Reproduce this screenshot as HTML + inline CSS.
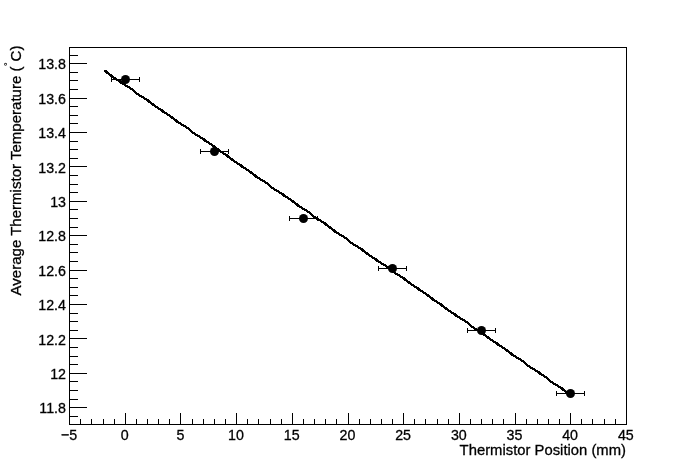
<!DOCTYPE html>
<html><head><meta charset="utf-8"><title>Thermistor plot</title>
<style>
html,body{margin:0;padding:0;background:#fff;}
body{width:696px;height:472px;overflow:hidden;}
svg{display:block;font-size:15px;}
text{font-family:"Liberation Sans",sans-serif;font-size:inherit;fill:#000;stroke:#000;stroke-width:0.3px;}
.ax line,.ax rect{stroke:#000;stroke-width:1;shape-rendering:crispEdges;fill:none;}
.eb line{stroke:#000;stroke-width:1;shape-rendering:crispEdges;}
</style></head><body>
<svg width="696" height="472" viewBox="0 0 696 472">
<rect x="0" y="0" width="696" height="472" fill="#fff"/>
<g class="ax">
<rect x="69.5" y="47.5" width="557.0" height="377.0"/>
<line x1="69.5" y1="424.5" x2="69.5" y2="413.0"/>
<line x1="80.5" y1="424.5" x2="80.5" y2="419.0"/>
<line x1="91.5" y1="424.5" x2="91.5" y2="419.0"/>
<line x1="103.5" y1="424.5" x2="103.5" y2="419.0"/>
<line x1="114.5" y1="424.5" x2="114.5" y2="419.0"/>
<line x1="125.5" y1="424.5" x2="125.5" y2="413.0"/>
<line x1="136.5" y1="424.5" x2="136.5" y2="419.0"/>
<line x1="147.5" y1="424.5" x2="147.5" y2="419.0"/>
<line x1="158.5" y1="424.5" x2="158.5" y2="419.0"/>
<line x1="169.5" y1="424.5" x2="169.5" y2="419.0"/>
<line x1="180.5" y1="424.5" x2="180.5" y2="413.0"/>
<line x1="192.5" y1="424.5" x2="192.5" y2="419.0"/>
<line x1="203.5" y1="424.5" x2="203.5" y2="419.0"/>
<line x1="214.5" y1="424.5" x2="214.5" y2="419.0"/>
<line x1="225.5" y1="424.5" x2="225.5" y2="419.0"/>
<line x1="236.5" y1="424.5" x2="236.5" y2="413.0"/>
<line x1="247.5" y1="424.5" x2="247.5" y2="419.0"/>
<line x1="258.5" y1="424.5" x2="258.5" y2="419.0"/>
<line x1="270.5" y1="424.5" x2="270.5" y2="419.0"/>
<line x1="281.5" y1="424.5" x2="281.5" y2="419.0"/>
<line x1="292.5" y1="424.5" x2="292.5" y2="413.0"/>
<line x1="303.5" y1="424.5" x2="303.5" y2="419.0"/>
<line x1="314.5" y1="424.5" x2="314.5" y2="419.0"/>
<line x1="325.5" y1="424.5" x2="325.5" y2="419.0"/>
<line x1="336.5" y1="424.5" x2="336.5" y2="419.0"/>
<line x1="348.5" y1="424.5" x2="348.5" y2="413.0"/>
<line x1="359.5" y1="424.5" x2="359.5" y2="419.0"/>
<line x1="370.5" y1="424.5" x2="370.5" y2="419.0"/>
<line x1="381.5" y1="424.5" x2="381.5" y2="419.0"/>
<line x1="392.5" y1="424.5" x2="392.5" y2="419.0"/>
<line x1="403.5" y1="424.5" x2="403.5" y2="413.0"/>
<line x1="414.5" y1="424.5" x2="414.5" y2="419.0"/>
<line x1="425.5" y1="424.5" x2="425.5" y2="419.0"/>
<line x1="437.5" y1="424.5" x2="437.5" y2="419.0"/>
<line x1="448.5" y1="424.5" x2="448.5" y2="419.0"/>
<line x1="459.5" y1="424.5" x2="459.5" y2="413.0"/>
<line x1="470.5" y1="424.5" x2="470.5" y2="419.0"/>
<line x1="481.5" y1="424.5" x2="481.5" y2="419.0"/>
<line x1="492.5" y1="424.5" x2="492.5" y2="419.0"/>
<line x1="503.5" y1="424.5" x2="503.5" y2="419.0"/>
<line x1="515.5" y1="424.5" x2="515.5" y2="413.0"/>
<line x1="526.5" y1="424.5" x2="526.5" y2="419.0"/>
<line x1="537.5" y1="424.5" x2="537.5" y2="419.0"/>
<line x1="548.5" y1="424.5" x2="548.5" y2="419.0"/>
<line x1="559.5" y1="424.5" x2="559.5" y2="419.0"/>
<line x1="570.5" y1="424.5" x2="570.5" y2="413.0"/>
<line x1="581.5" y1="424.5" x2="581.5" y2="419.0"/>
<line x1="592.5" y1="424.5" x2="592.5" y2="419.0"/>
<line x1="604.5" y1="424.5" x2="604.5" y2="419.0"/>
<line x1="615.5" y1="424.5" x2="615.5" y2="419.0"/>
<line x1="626.5" y1="424.5" x2="626.5" y2="413.0"/>
<line x1="69.5" y1="416.5" x2="78.0" y2="416.5"/>
<line x1="69.5" y1="407.5" x2="87.0" y2="407.5"/>
<line x1="69.5" y1="399.5" x2="78.0" y2="399.5"/>
<line x1="69.5" y1="390.5" x2="78.0" y2="390.5"/>
<line x1="69.5" y1="381.5" x2="78.0" y2="381.5"/>
<line x1="69.5" y1="373.5" x2="87.0" y2="373.5"/>
<line x1="69.5" y1="364.5" x2="78.0" y2="364.5"/>
<line x1="69.5" y1="356.5" x2="78.0" y2="356.5"/>
<line x1="69.5" y1="347.5" x2="78.0" y2="347.5"/>
<line x1="69.5" y1="338.5" x2="87.0" y2="338.5"/>
<line x1="69.5" y1="330.5" x2="78.0" y2="330.5"/>
<line x1="69.5" y1="321.5" x2="78.0" y2="321.5"/>
<line x1="69.5" y1="313.5" x2="78.0" y2="313.5"/>
<line x1="69.5" y1="304.5" x2="87.0" y2="304.5"/>
<line x1="69.5" y1="295.5" x2="78.0" y2="295.5"/>
<line x1="69.5" y1="287.5" x2="78.0" y2="287.5"/>
<line x1="69.5" y1="278.5" x2="78.0" y2="278.5"/>
<line x1="69.5" y1="270.5" x2="87.0" y2="270.5"/>
<line x1="69.5" y1="261.5" x2="78.0" y2="261.5"/>
<line x1="69.5" y1="252.5" x2="78.0" y2="252.5"/>
<line x1="69.5" y1="244.5" x2="78.0" y2="244.5"/>
<line x1="69.5" y1="235.5" x2="87.0" y2="235.5"/>
<line x1="69.5" y1="227.5" x2="78.0" y2="227.5"/>
<line x1="69.5" y1="218.5" x2="78.0" y2="218.5"/>
<line x1="69.5" y1="209.5" x2="78.0" y2="209.5"/>
<line x1="69.5" y1="201.5" x2="87.0" y2="201.5"/>
<line x1="69.5" y1="192.5" x2="78.0" y2="192.5"/>
<line x1="69.5" y1="184.5" x2="78.0" y2="184.5"/>
<line x1="69.5" y1="175.5" x2="78.0" y2="175.5"/>
<line x1="69.5" y1="166.5" x2="87.0" y2="166.5"/>
<line x1="69.5" y1="158.5" x2="78.0" y2="158.5"/>
<line x1="69.5" y1="149.5" x2="78.0" y2="149.5"/>
<line x1="69.5" y1="141.5" x2="78.0" y2="141.5"/>
<line x1="69.5" y1="132.5" x2="87.0" y2="132.5"/>
<line x1="69.5" y1="123.5" x2="78.0" y2="123.5"/>
<line x1="69.5" y1="115.5" x2="78.0" y2="115.5"/>
<line x1="69.5" y1="106.5" x2="78.0" y2="106.5"/>
<line x1="69.5" y1="98.5" x2="87.0" y2="98.5"/>
<line x1="69.5" y1="89.5" x2="78.0" y2="89.5"/>
<line x1="69.5" y1="80.5" x2="78.0" y2="80.5"/>
<line x1="69.5" y1="72.5" x2="78.0" y2="72.5"/>
<line x1="69.5" y1="63.5" x2="87.0" y2="63.5"/>
<line x1="69.5" y1="55.5" x2="78.0" y2="55.5"/>
</g>
<g text-anchor="middle" style="font-size:15.3px">
<text transform="translate(69.0,440) scale(0.932,1)">−5</text>
<text transform="translate(124.7,440) scale(0.932,1)">0</text>
<text transform="translate(180.4,440) scale(0.932,1)">5</text>
<text transform="translate(236.0,440) scale(0.932,1)">10</text>
<text transform="translate(291.7,440) scale(0.932,1)">15</text>
<text transform="translate(347.4,440) scale(0.932,1)">20</text>
<text transform="translate(403.1,440) scale(0.932,1)">25</text>
<text transform="translate(458.8,440) scale(0.932,1)">30</text>
<text transform="translate(514.4,440) scale(0.932,1)">35</text>
<text transform="translate(570.1,440) scale(0.932,1)">40</text>
<text transform="translate(625.8,440) scale(0.932,1)">45</text>
</g>
<g text-anchor="end" style="font-size:15.3px">
<text transform="translate(66,413.3) scale(0.932,1)">11.8</text>
<text transform="translate(66,378.9) scale(0.932,1)">12</text>
<text transform="translate(66,344.5) scale(0.932,1)">12.2</text>
<text transform="translate(66,310.1) scale(0.932,1)">12.4</text>
<text transform="translate(66,275.7) scale(0.932,1)">12.6</text>
<text transform="translate(66,241.3) scale(0.932,1)">12.8</text>
<text transform="translate(66,206.9) scale(0.932,1)">13</text>
<text transform="translate(66,172.5) scale(0.932,1)">13.2</text>
<text transform="translate(66,138.1) scale(0.932,1)">13.4</text>
<text transform="translate(66,103.7) scale(0.932,1)">13.6</text>
<text transform="translate(66,69.3) scale(0.932,1)">13.8</text>
</g>
<text transform="translate(626,455) scale(0.989,1)" text-anchor="end">Thermistor Position (mm)</text>
<text transform="translate(20.5,45.6) rotate(-90) scale(1.003,1)" text-anchor="end">Average Thermistor Temperature (<tspan style="font-size:9px;stroke-width:0.2px" dy="-9.3" dx="0.55">°</tspan><tspan dy="9.3" dx="0.8">C)</tspan></text>
<polyline points="104.5,70.5 108.5,73.5 113.5,77.5 118.5,80.5 122.5,83.5 127.5,86.5 132.5,89.5 136.5,93.5 141.5,96.5 146.5,99.5 150.5,102.5 155.5,106.5 160.5,109.5 164.5,112.5 169.5,115.5 174.5,119.5 178.5,122.5 183.5,125.5 188.5,128.5 192.5,132.5 197.5,135.5 202.5,138.5 206.5,141.5 211.5,144.5 216.5,148.5 220.5,151.5 225.5,154.5 229.5,157.5 234.5,161.5 239.5,164.5 243.5,167.5 248.5,170.5 253.5,174.5 257.5,177.5 262.5,180.5 267.5,183.5 271.5,187.5 276.5,190.5 281.5,193.5 285.5,196.5 290.5,199.5 295.5,203.5 299.5,206.5 304.5,209.5 309.5,212.5 313.5,216.5 318.5,219.5 323.5,222.5 327.5,225.5 332.5,229.5 336.5,232.5 341.5,235.5 346.5,238.5 350.5,242.5 355.5,245.5 360.5,248.5 364.5,251.5 369.5,255.5 374.5,258.5 378.5,261.5 383.5,264.5 388.5,267.5 392.5,271.5 397.5,274.5 402.5,277.5 406.5,280.5 411.5,284.5 416.5,287.5 420.5,290.5 425.5,293.5 430.5,297.5 434.5,300.5 439.5,303.5 443.5,306.5 448.5,310.5 453.5,313.5 457.5,316.5 462.5,319.5 467.5,322.5 471.5,326.5 476.5,329.5 481.5,332.5 485.5,335.5 490.5,339.5 495.5,342.5 499.5,345.5 504.5,348.5 509.5,352.5 513.5,355.5 518.5,358.5 523.5,361.5 527.5,365.5 532.5,368.5 537.5,371.5 541.5,374.5 546.5,377.5 550.5,381.5 555.5,384.5 560.5,387.5 564.5,390.5 569.5,394.5" fill="none" stroke="#000" stroke-width="2.4" stroke-linejoin="round" stroke-linecap="butt" shape-rendering="crispEdges"/>
<g class="eb">
<line x1="111.5" y1="79.5" x2="139.5" y2="79.5"/>
<line x1="111.5" y1="77.0" x2="111.5" y2="82.0"/>
<line x1="139.5" y1="77.0" x2="139.5" y2="82.0"/>
<line x1="200.5" y1="151.5" x2="228.5" y2="151.5"/>
<line x1="200.5" y1="149.0" x2="200.5" y2="154.0"/>
<line x1="228.5" y1="149.0" x2="228.5" y2="154.0"/>
<line x1="289.5" y1="218.5" x2="317.5" y2="218.5"/>
<line x1="289.5" y1="216.0" x2="289.5" y2="221.0"/>
<line x1="317.5" y1="216.0" x2="317.5" y2="221.0"/>
<line x1="378.5" y1="268.5" x2="406.5" y2="268.5"/>
<line x1="378.5" y1="266.0" x2="378.5" y2="271.0"/>
<line x1="406.5" y1="266.0" x2="406.5" y2="271.0"/>
<line x1="467.5" y1="330.5" x2="495.5" y2="330.5"/>
<line x1="467.5" y1="328.0" x2="467.5" y2="333.0"/>
<line x1="495.5" y1="328.0" x2="495.5" y2="333.0"/>
<line x1="556.5" y1="393.5" x2="584.5" y2="393.5"/>
<line x1="556.5" y1="391.0" x2="556.5" y2="396.0"/>
<line x1="584.5" y1="391.0" x2="584.5" y2="396.0"/>
</g>
<circle cx="125.5" cy="79.5" r="4.5" fill="#000"/>
<circle cx="214.5" cy="151.5" r="4.5" fill="#000"/>
<circle cx="303.5" cy="218.5" r="4.5" fill="#000"/>
<circle cx="392.5" cy="268.5" r="4.5" fill="#000"/>
<circle cx="481.5" cy="330.5" r="4.5" fill="#000"/>
<circle cx="570.5" cy="393.5" r="4.5" fill="#000"/>
</svg></body></html>
